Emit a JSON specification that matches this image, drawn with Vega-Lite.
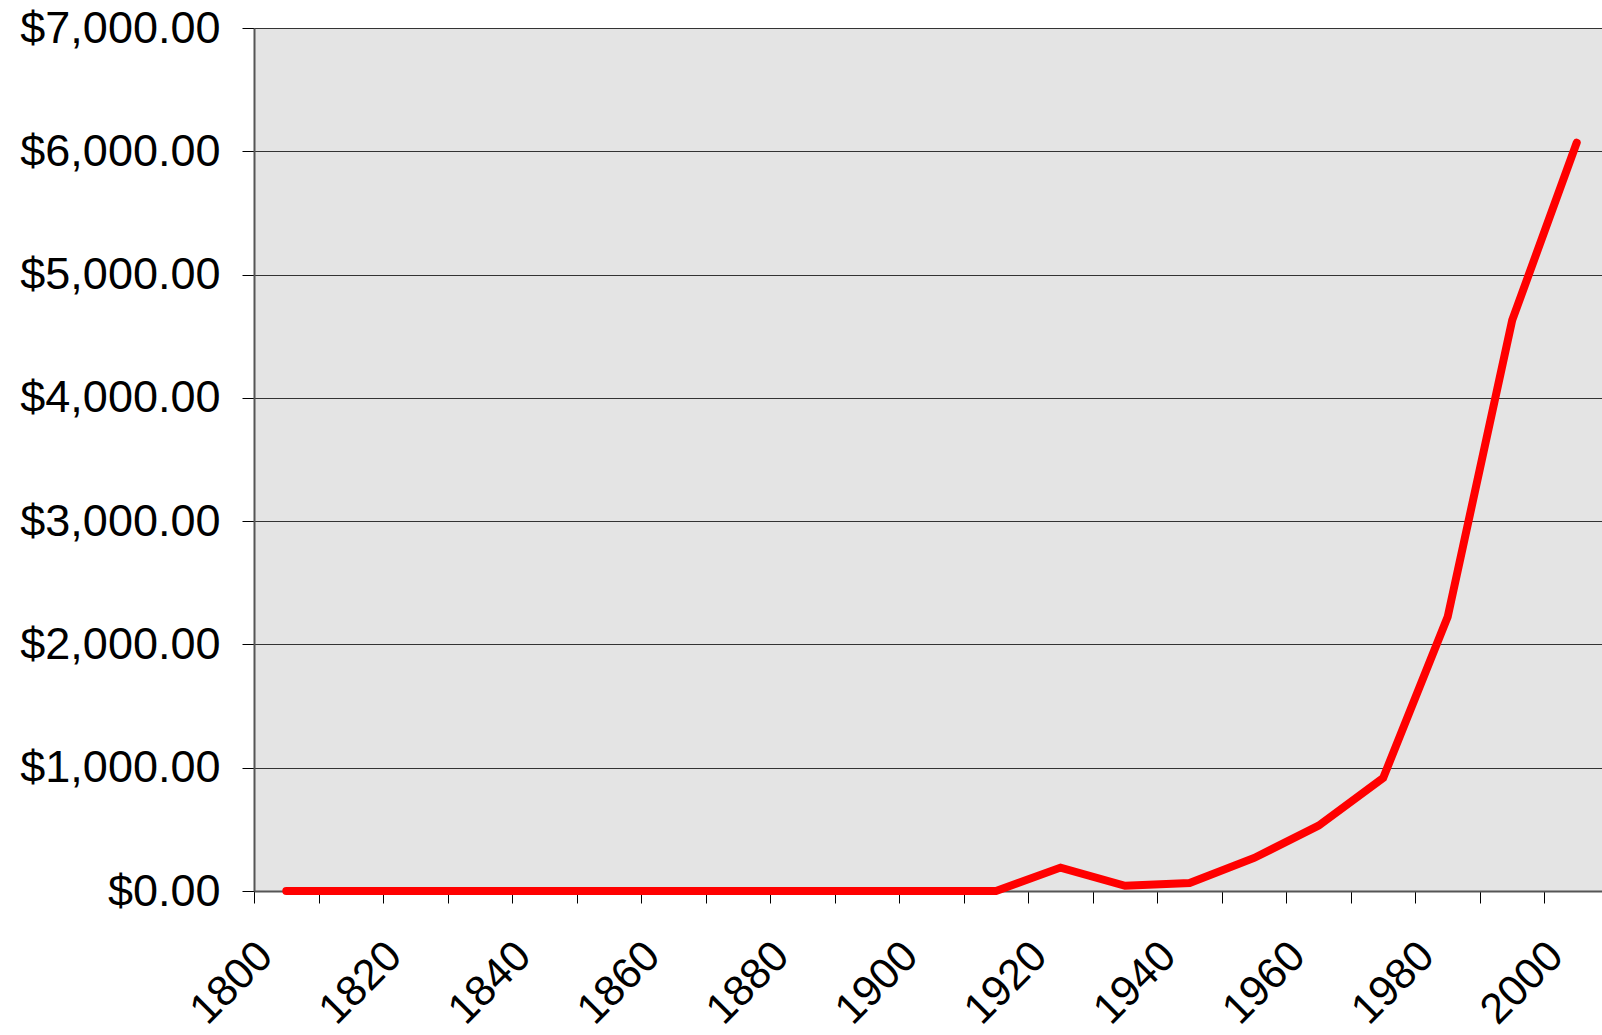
{
  "$schema": "https://vega.github.io/schema/vega-lite/v6.json",
  "autosize": {"type": "none"},
  "padding": {"left": 254, "top": 28, "right": 0, "bottom": 144},
  "width": 1355,
  "height": 863,
  "background": "white",
  "config": {
    "view": {"fill": "#e4e4e4", "stroke": null},
    "font": "Liberation Sans"
  },
  "data": {
    "values": [
      {"year": 1800, "value": 0},
      {"year": 1810, "value": 0},
      {"year": 1820, "value": 0},
      {"year": 1830, "value": 0},
      {"year": 1840, "value": 0},
      {"year": 1850, "value": 0},
      {"year": 1860, "value": 0},
      {"year": 1870, "value": 0},
      {"year": 1880, "value": 0},
      {"year": 1890, "value": 0},
      {"year": 1900, "value": 0},
      {"year": 1910, "value": 0},
      {"year": 1920, "value": 190},
      {"year": 1930, "value": 42},
      {"year": 1940, "value": 65},
      {"year": 1950, "value": 268},
      {"year": 1960, "value": 530},
      {"year": 1970, "value": 917},
      {"year": 1980, "value": 2224},
      {"year": 1990, "value": 4630},
      {"year": 2000, "value": 6070}
    ]
  },
  "mark": {"type": "line", "color": "#ff0000", "strokeWidth": 8, "strokeCap": "round", "strokeJoin": "miter"},
  "encoding": {
    "x": {
      "field": "year",
      "type": "ordinal",
      "scale": {"type": "band", "paddingInner": 0, "paddingOuter": 0},
      "axis": {
        "title": null,
        "tickBand": "extent",
        "labelAngle": -45,
        "labelAlign": "right",
        "labelBaseline": "middle",
        "labelOffset": -21,
        "labelPadding": 46,
        "labelFontSize": 43,
        "labelLimit": 0,
        "labelColor": "#000000",
        "labelExpr": "datum.value % 20 == 0 ? datum.label : ''",
        "tickSize": 12,
        "tickColor": "#000000",
        "tickWidth": 1,
        "domainColor": "#555555",
        "domainWidth": 2,
        "grid": false
      }
    },
    "y": {
      "field": "value",
      "type": "quantitative",
      "scale": {"domain": [0, 7000], "nice": false},
      "axis": {
        "title": null,
        "values": [0, 1000, 2000, 3000, 4000, 5000, 6000, 7000],
        "format": "$,.2f",
        "labelFontSize": 45,
        "labelLimit": 0,
        "labelColor": "#000000",
        "labelPadding": 22,
        "tickSize": 12,
        "tickColor": "#000000",
        "tickWidth": 1,
        "domainColor": "#555555",
        "domainWidth": 2,
        "grid": true,
        "gridColor": "#333333",
        "gridWidth": 1
      }
    }
  }
}
